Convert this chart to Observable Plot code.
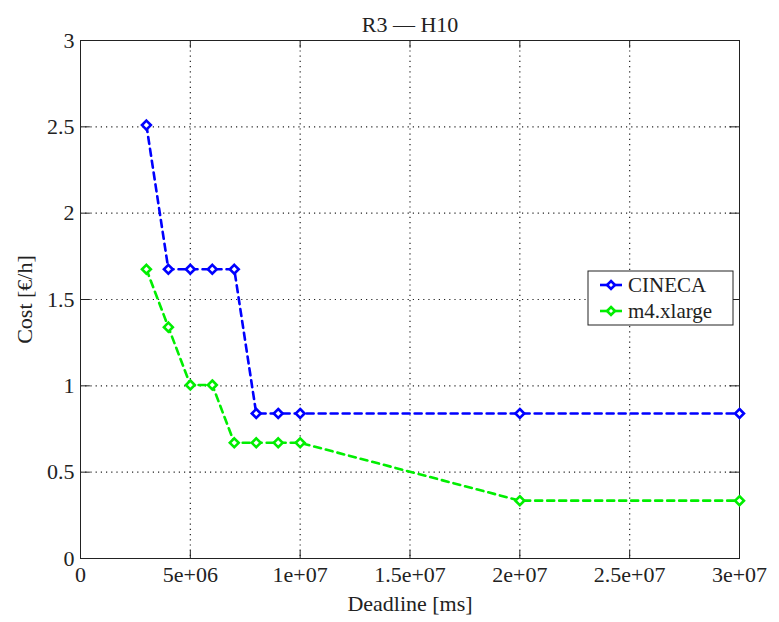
<!DOCTYPE html>
<html><head><meta charset="utf-8">
<script src="https://cdn.jsdelivr.net/npm/d3@7"></script>
<script src="https://cdn.jsdelivr.net/npm/@observablehq/plot@0.6"></script>
<style>body{margin:0;background:#fff}</style>
</head><body><div id="chart"></div>
<script>
const deadlines = [3e6, 4e6, 5e6, 6e6, 7e6, 8e6, 9e6, 1e7, 2e7, 3e7];
const cineca = [2.51, 1.675, 1.675, 1.675, 1.675, 0.84, 0.84, 0.84, 0.84, 0.84];
const m4xlarge = [1.675, 1.34, 1.005, 1.005, 0.67, 0.67, 0.67, 0.67, 0.335, 0.335];
const seriesNames = ["CINECA", "m4.xlarge"];
const seriesColors = ["#0000ff", "#00ee00"];
const xTicks = [0, 5e6, 1e7, 1.5e7, 2e7, 2.5e7, 3e7];
const xTickLabels = ["0", "5e+06", "1e+07", "1.5e+07", "2e+07", "2.5e+07", "3e+07"];
const yTicks = [0, 0.5, 1, 1.5, 2, 2.5, 3];
const yTickLabels = ["0", "0.5", "1", "1.5", "2", "2.5", "3"];
const title = "R3 — H10";

const data = [];
[cineca, m4xlarge].forEach((vals, si) => vals.forEach((v, i) => data.push({x: deadlines[i], y: v, s: seriesNames[si]})));

const FONT = "'Liberation Serif', 'DejaVu Serif', serif";
const W = 779, H = 622;
const mL = 80, mR = 40, mT = 40, mB = 64;

const plot = Plot.plot({
  width: W, height: H,
  marginLeft: mL, marginRight: mR, marginTop: mT, marginBottom: mB,
  style: {background: "white"},
  x: {domain: [0, 3e7]},
  y: {domain: [0, 3]},
  color: {domain: seriesNames, range: seriesColors},
  marks: [
    Plot.ruleX(xTicks.slice(1, -1), {stroke: "#222", strokeDasharray: "1.2,4", strokeWidth: 1.2}),
    Plot.ruleY(yTicks.slice(1, -1), {stroke: "#222", strokeDasharray: "1.2,4", strokeWidth: 1.2}),
    Plot.ruleX(xTicks, {y1: 0, y2: 0.045, stroke: "#222"}),
    Plot.ruleX(xTicks, {y1: 3, y2: 2.955, stroke: "#222"}),
    Plot.ruleY(yTicks, {x1: 0, x2: 4.5e5, stroke: "#222"}),
    Plot.ruleY(yTicks, {x1: 3e7, x2: 3e7 - 4.5e5, stroke: "#222"}),
    Plot.frame({stroke: "#222", strokeWidth: 1}),
    Plot.axisX({ticks: xTicks, tickFormat: (d, i) => xTickLabels[i], tickSize: 0, tickPadding: 8,
      label: "Deadline [ms]", labelAnchor: "center", labelArrow: false, labelOffset: 52}),
    Plot.axisY({ticks: yTicks, tickFormat: (d, i) => yTickLabels[i], tickSize: 0, tickPadding: 6,
      label: "Cost [€/h]", labelAnchor: "center", labelArrow: false, labelOffset: 64}),
    Plot.line(data, {x: "x", y: "y", z: "s", stroke: "s", strokeWidth: 2.6, strokeDasharray: "7,5"}),
    Plot.dot(data, {x: "x", y: "y", stroke: "s", fill: "white", symbol: "diamond2", r: 4, strokeWidth: 2.6}),
    Plot.text([title], {frameAnchor: "top", dy: -24, fill: "#222"})
  ]
});
document.getElementById("chart").appendChild(plot);

const svg = d3.select(plot);
svg.style("font-family", FONT).style("font-size", "22px");
svg.selectAll("text").style("font-family", FONT).style("font-size", "22px").attr("font-size", null).attr("fill", "#222");
svg.selectAll("g").attr("font-size", null).attr("font-family", null);

const lg = svg.append("g").attr("transform", "translate(588,271)").attr("text-anchor", "start");
lg.append("rect").attr("width", 145).attr("height", 54).attr("fill", "white").attr("stroke", "#222").attr("stroke-width", 1);
seriesNames.forEach((n, i) => {
  const yy = 14 + i * 26;
  lg.append("line").attr("x1", 12).attr("x2", 34).attr("y1", yy).attr("y2", yy).attr("stroke", seriesColors[i]).attr("stroke-width", 2.6);
  lg.append("path").attr("d", d3.symbol(d3.symbolDiamond2, 40)()).attr("transform", `translate(23,${yy})`).attr("fill", "white").attr("stroke", seriesColors[i]).attr("stroke-width", 2.6);
  lg.append("text").attr("x", 40).attr("y", yy + 7).style("font-family", FONT).style("font-size", "21px").attr("fill", "#222").attr("text-anchor", "start").text(n);
});
</script>
</body></html>
